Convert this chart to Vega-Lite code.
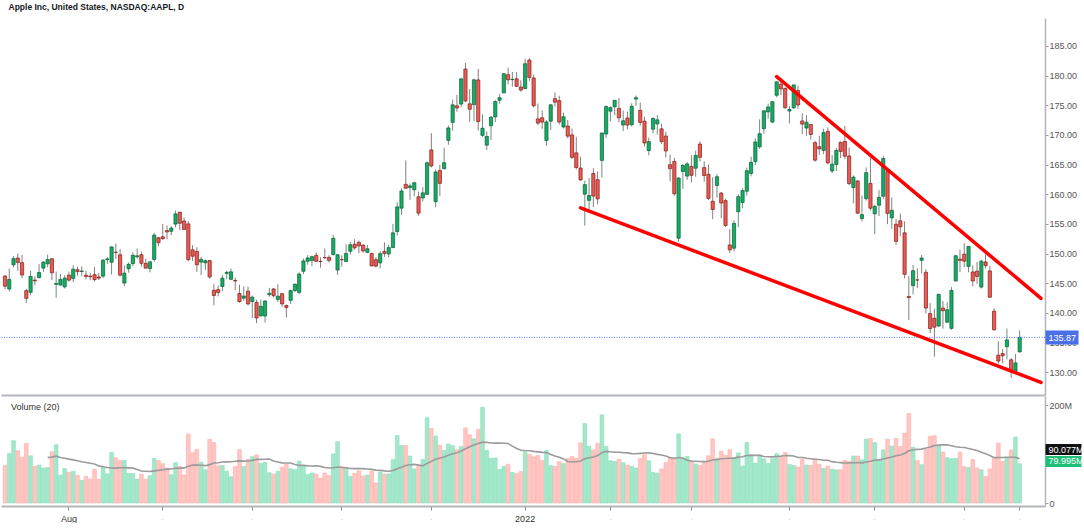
{
  "$schema": "https://vega.github.io/schema/vega-lite/v6.json",
  "background": "white",
  "padding": {"left": 0, "right": 0, "top": 2, "bottom": 0},
  "config": {
    "view": {"stroke": null},
    "font": "Liberation Sans, Arial, sans-serif",
    "axis": {"labelFont": "Liberation Sans, Arial, sans-serif", "grid": false},
    "text": {"font": "Liberation Sans, Arial, sans-serif"}
  },
  "title": {"text": "Apple Inc, United States, NASDAQ:AAPL, D", "anchor": "start", "fontSize": 8.5, "fontWeight": "bold", "color": "#131722", "offset": 7, "dx": 8, "font": "Liberation Sans, Arial, sans-serif"},
  "spacing": 1,
  "resolve": {"scale": {"x": "shared"}, "axis": {"x": "independent"}},
  "datasets": {
    "trend": [
      {"g": "lo", "d": "2022-01-21", "p": 157.7},
      {"g": "lo", "d": "2022-06-28", "p": 128.27},
      {"g": "hi", "d": "2022-03-29", "p": 179.82},
      {"g": "hi", "d": "2022-06-28", "p": 142.45}
    ],
    "ohlc": [
{"d":"2021-07-12","o":146.21,"h":146.32,"l":144.0,"c":144.5,"v":76.6},
{"d":"2021-07-13","o":144.03,"h":147.46,"l":143.63,"c":145.64,"v":100.8},
{"d":"2021-07-14","o":148.1,"h":149.57,"l":147.68,"c":149.15,"v":127.1},
{"d":"2021-07-15","o":149.24,"h":150.0,"l":147.09,"c":148.48,"v":106.8},
{"d":"2021-07-16","o":148.46,"h":149.76,"l":145.88,"c":146.39,"v":93.3},
{"d":"2021-07-19","o":143.75,"h":144.07,"l":141.67,"c":142.45,"v":121.4},
{"d":"2021-07-20","o":143.46,"h":147.1,"l":142.96,"c":146.15,"v":96.4},
{"d":"2021-07-21","o":145.53,"h":146.13,"l":144.63,"c":145.4,"v":75.0},
{"d":"2021-07-22","o":145.94,"h":148.2,"l":145.81,"c":146.8,"v":77.3},
{"d":"2021-07-23","o":147.55,"h":148.72,"l":146.92,"c":148.56,"v":71.4},
{"d":"2021-07-26","o":148.27,"h":149.83,"l":147.7,"c":148.99,"v":72.4},
{"d":"2021-07-27","o":149.12,"h":149.21,"l":145.55,"c":146.77,"v":104.8},
{"d":"2021-07-28","o":144.81,"h":146.97,"l":142.54,"c":144.98,"v":118.9},
{"d":"2021-07-29","o":144.69,"h":146.55,"l":144.58,"c":145.64,"v":56.7},
{"d":"2021-07-30","o":144.38,"h":146.33,"l":144.11,"c":145.86,"v":70.4},
{"d":"2021-08-02","o":146.36,"h":146.95,"l":145.25,"c":145.52,"v":62.9},
{"d":"2021-08-03","o":145.81,"h":148.04,"l":145.18,"c":147.36,"v":64.8},
{"d":"2021-08-04","o":147.27,"h":147.79,"l":146.28,"c":146.95,"v":56.4},
{"d":"2021-08-05","o":146.98,"h":147.84,"l":146.17,"c":147.06,"v":46.4},
{"d":"2021-08-06","o":146.35,"h":147.11,"l":145.63,"c":146.14,"v":54.1},
{"d":"2021-08-09","o":146.2,"h":146.7,"l":145.52,"c":146.09,"v":48.9},
{"d":"2021-08-10","o":146.44,"h":147.71,"l":145.3,"c":145.6,"v":69.0},
{"d":"2021-08-11","o":146.05,"h":146.72,"l":145.53,"c":145.86,"v":48.5},
{"d":"2021-08-12","o":146.19,"h":149.05,"l":145.84,"c":148.89,"v":72.3},
{"d":"2021-08-13","o":148.97,"h":149.44,"l":148.27,"c":149.1,"v":59.4},
{"d":"2021-08-16","o":148.54,"h":151.19,"l":146.47,"c":151.12,"v":103.3},
{"d":"2021-08-17","o":150.23,"h":151.68,"l":149.09,"c":150.19,"v":92.2},
{"d":"2021-08-18","o":149.8,"h":150.72,"l":146.15,"c":146.36,"v":86.3},
{"d":"2021-08-19","o":145.03,"h":148.0,"l":144.5,"c":146.7,"v":87.0},
{"d":"2021-08-20","o":147.44,"h":148.5,"l":146.78,"c":148.19,"v":60.5},
{"d":"2021-08-23","o":148.31,"h":150.19,"l":147.89,"c":149.71,"v":60.1},
{"d":"2021-08-24","o":149.45,"h":150.86,"l":149.15,"c":149.62,"v":48.6},
{"d":"2021-08-25","o":149.81,"h":150.32,"l":147.8,"c":148.36,"v":59.0},
{"d":"2021-08-26","o":148.35,"h":149.12,"l":147.51,"c":147.54,"v":48.6},
{"d":"2021-08-27","o":147.48,"h":148.75,"l":146.83,"c":148.6,"v":55.8},
{"d":"2021-08-30","o":149.0,"h":153.49,"l":148.61,"c":153.12,"v":91.0},
{"d":"2021-08-31","o":152.66,"h":152.8,"l":151.29,"c":151.83,"v":86.5},
{"d":"2021-09-01","o":152.83,"h":154.98,"l":152.34,"c":152.51,"v":80.3},
{"d":"2021-09-02","o":153.87,"h":154.72,"l":152.4,"c":153.65,"v":71.1},
{"d":"2021-09-03","o":153.76,"h":154.63,"l":153.09,"c":154.3,"v":57.8},
{"d":"2021-09-07","o":154.97,"h":157.26,"l":154.39,"c":156.69,"v":82.3},
{"d":"2021-09-08","o":156.98,"h":157.04,"l":153.98,"c":155.11,"v":74.4},
{"d":"2021-09-09","o":155.49,"h":156.11,"l":153.95,"c":154.07,"v":57.3},
{"d":"2021-09-10","o":155.0,"h":155.48,"l":148.7,"c":148.97,"v":140.9},
{"d":"2021-09-13","o":150.63,"h":151.42,"l":148.75,"c":149.55,"v":102.4},
{"d":"2021-09-14","o":150.35,"h":151.07,"l":146.91,"c":148.12,"v":109.3},
{"d":"2021-09-15","o":148.56,"h":149.44,"l":146.37,"c":149.03,"v":83.3},
{"d":"2021-09-16","o":148.44,"h":148.97,"l":147.22,"c":148.79,"v":68.0},
{"d":"2021-09-17","o":148.82,"h":148.82,"l":145.76,"c":146.06,"v":129.9},
{"d":"2021-09-20","o":143.8,"h":144.84,"l":141.27,"c":142.94,"v":123.5},
{"d":"2021-09-21","o":143.93,"h":144.6,"l":142.78,"c":143.43,"v":75.8},
{"d":"2021-09-22","o":144.45,"h":146.43,"l":143.7,"c":145.85,"v":76.4},
{"d":"2021-09-23","o":146.65,"h":147.08,"l":145.64,"c":146.83,"v":64.8},
{"d":"2021-09-24","o":145.66,"h":147.47,"l":145.56,"c":146.92,"v":53.5},
{"d":"2021-09-27","o":145.47,"h":145.96,"l":143.82,"c":145.37,"v":74.2},
{"d":"2021-09-28","o":143.25,"h":144.75,"l":141.69,"c":141.91,"v":109.0},
{"d":"2021-09-29","o":142.47,"h":144.45,"l":142.03,"c":142.83,"v":74.6},
{"d":"2021-09-30","o":143.66,"h":144.38,"l":141.28,"c":141.5,"v":89.1},
{"d":"2021-10-01","o":141.9,"h":142.92,"l":139.11,"c":142.65,"v":94.6},
{"d":"2021-10-04","o":141.76,"h":142.21,"l":138.27,"c":139.14,"v":98.3},
{"d":"2021-10-05","o":139.49,"h":142.24,"l":139.36,"c":141.11,"v":80.9},
{"d":"2021-10-06","o":139.47,"h":142.15,"l":138.37,"c":142.0,"v":83.2},
{"d":"2021-10-07","o":143.06,"h":144.22,"l":142.72,"c":143.29,"v":61.7},
{"d":"2021-10-08","o":144.03,"h":144.18,"l":142.56,"c":142.9,"v":58.8},
{"d":"2021-10-11","o":142.27,"h":144.81,"l":141.81,"c":142.81,"v":64.5},
{"d":"2021-10-12","o":143.23,"h":143.25,"l":141.04,"c":141.51,"v":73.0},
{"d":"2021-10-13","o":141.24,"h":141.4,"l":139.2,"c":140.91,"v":78.8},
{"d":"2021-10-14","o":142.11,"h":143.88,"l":141.51,"c":143.76,"v":69.9},
{"d":"2021-10-15","o":143.77,"h":144.9,"l":143.51,"c":144.84,"v":67.9},
{"d":"2021-10-18","o":143.45,"h":146.84,"l":143.16,"c":146.55,"v":85.6},
{"d":"2021-10-19","o":147.01,"h":149.17,"l":146.55,"c":148.76,"v":76.4},
{"d":"2021-10-20","o":148.7,"h":149.75,"l":148.12,"c":149.26,"v":58.4},
{"d":"2021-10-21","o":148.81,"h":149.64,"l":147.87,"c":149.48,"v":61.4},
{"d":"2021-10-22","o":149.69,"h":150.18,"l":148.64,"c":148.69,"v":58.9},
{"d":"2021-10-25","o":148.68,"h":149.37,"l":147.62,"c":148.64,"v":50.7},
{"d":"2021-10-26","o":149.33,"h":150.84,"l":149.01,"c":149.32,"v":60.9},
{"d":"2021-10-27","o":149.36,"h":149.73,"l":148.49,"c":148.85,"v":56.1},
{"d":"2021-10-28","o":149.82,"h":153.17,"l":149.72,"c":152.57,"v":100.1},
{"d":"2021-10-29","o":147.22,"h":149.94,"l":146.41,"c":149.8,"v":125.0},
{"d":"2021-11-01","o":148.99,"h":149.7,"l":147.8,"c":148.96,"v":74.6},
{"d":"2021-11-02","o":148.66,"h":151.57,"l":148.65,"c":150.02,"v":69.1},
{"d":"2021-11-03","o":150.39,"h":151.97,"l":149.82,"c":151.49,"v":54.5},
{"d":"2021-11-04","o":151.58,"h":152.43,"l":150.64,"c":150.96,"v":60.4},
{"d":"2021-11-05","o":151.89,"h":152.2,"l":150.06,"c":151.28,"v":65.5},
{"d":"2021-11-08","o":151.41,"h":151.57,"l":150.16,"c":150.44,"v":55.0},
{"d":"2021-11-09","o":150.2,"h":151.43,"l":150.06,"c":150.81,"v":56.8},
{"d":"2021-11-10","o":150.02,"h":150.13,"l":147.85,"c":147.92,"v":65.2},
{"d":"2021-11-11","o":148.96,"h":149.43,"l":147.68,"c":147.87,"v":41.0},
{"d":"2021-11-12","o":148.43,"h":150.4,"l":147.48,"c":149.99,"v":63.8},
{"d":"2021-11-15","o":150.37,"h":151.88,"l":149.43,"c":150.0,"v":59.2},
{"d":"2021-11-16","o":149.94,"h":151.49,"l":149.34,"c":151.0,"v":59.3},
{"d":"2021-11-17","o":151.0,"h":155.0,"l":150.99,"c":153.49,"v":88.8},
{"d":"2021-11-18","o":153.71,"h":158.67,"l":153.05,"c":157.87,"v":137.8},
{"d":"2021-11-19","o":157.65,"h":161.02,"l":156.53,"c":160.55,"v":117.3},
{"d":"2021-11-22","o":161.68,"h":165.7,"l":161.0,"c":161.02,"v":117.5},
{"d":"2021-11-23","o":161.12,"h":161.8,"l":159.06,"c":161.41,"v":96.0},
{"d":"2021-11-24","o":160.75,"h":162.14,"l":159.64,"c":161.94,"v":69.5},
{"d":"2021-11-26","o":159.57,"h":160.45,"l":156.36,"c":156.81,"v":77.0},
{"d":"2021-11-29","o":159.37,"h":161.19,"l":158.79,"c":160.24,"v":88.7},
{"d":"2021-11-30","o":159.99,"h":165.52,"l":159.92,"c":165.3,"v":174.0},
{"d":"2021-12-01","o":167.48,"h":170.3,"l":164.53,"c":164.77,"v":152.1},
{"d":"2021-12-02","o":158.74,"h":164.2,"l":157.8,"c":163.76,"v":136.7},
{"d":"2021-12-03","o":164.02,"h":164.96,"l":159.72,"c":161.84,"v":118.0},
{"d":"2021-12-06","o":164.29,"h":167.88,"l":164.28,"c":165.32,"v":107.5},
{"d":"2021-12-07","o":169.08,"h":171.58,"l":168.34,"c":171.18,"v":120.4},
{"d":"2021-12-08","o":172.13,"h":175.96,"l":170.7,"c":175.08,"v":117.0},
{"d":"2021-12-09","o":174.91,"h":176.75,"l":173.92,"c":174.56,"v":108.9},
{"d":"2021-12-10","o":175.21,"h":179.63,"l":174.69,"c":179.45,"v":115.4},
{"d":"2021-12-13","o":181.12,"h":182.13,"l":175.53,"c":175.74,"v":153.2},
{"d":"2021-12-14","o":175.25,"h":177.74,"l":172.21,"c":174.33,"v":139.4},
{"d":"2021-12-15","o":175.11,"h":179.5,"l":172.31,"c":179.3,"v":131.1},
{"d":"2021-12-16","o":179.28,"h":181.14,"l":170.75,"c":172.26,"v":150.2},
{"d":"2021-12-17","o":169.93,"h":173.47,"l":169.69,"c":171.14,"v":195.4},
{"d":"2021-12-20","o":168.28,"h":170.58,"l":167.46,"c":169.75,"v":107.5},
{"d":"2021-12-21","o":171.56,"h":173.2,"l":169.12,"c":172.99,"v":91.2},
{"d":"2021-12-22","o":173.04,"h":175.86,"l":172.15,"c":175.64,"v":92.1},
{"d":"2021-12-23","o":175.85,"h":176.85,"l":175.27,"c":176.28,"v":68.4},
{"d":"2021-12-27","o":177.09,"h":180.42,"l":177.07,"c":180.33,"v":74.9},
{"d":"2021-12-28","o":180.16,"h":181.33,"l":178.53,"c":179.29,"v":79.1},
{"d":"2021-12-29","o":179.33,"h":180.63,"l":178.14,"c":179.38,"v":62.3},
{"d":"2021-12-30","o":179.47,"h":180.57,"l":178.09,"c":178.2,"v":59.8},
{"d":"2021-12-31","o":178.09,"h":179.23,"l":177.26,"c":177.57,"v":64.1},
{"d":"2022-01-03","o":177.83,"h":182.88,"l":177.71,"c":182.01,"v":104.5},
{"d":"2022-01-04","o":182.63,"h":182.94,"l":179.12,"c":179.7,"v":99.3},
{"d":"2022-01-05","o":179.61,"h":180.17,"l":174.64,"c":174.92,"v":94.5},
{"d":"2022-01-06","o":172.7,"h":175.3,"l":171.64,"c":172.0,"v":96.9},
{"d":"2022-01-07","o":172.89,"h":174.14,"l":171.03,"c":172.17,"v":86.7},
{"d":"2022-01-10","o":169.08,"h":172.5,"l":168.17,"c":172.19,"v":106.8},
{"d":"2022-01-11","o":172.32,"h":175.18,"l":170.82,"c":175.08,"v":76.1},
{"d":"2022-01-12","o":176.12,"h":177.18,"l":174.82,"c":175.53,"v":74.8},
{"d":"2022-01-13","o":175.78,"h":176.62,"l":171.79,"c":172.19,"v":84.5},
{"d":"2022-01-14","o":171.34,"h":173.78,"l":171.09,"c":173.07,"v":80.4},
{"d":"2022-01-18","o":171.51,"h":172.54,"l":169.41,"c":169.8,"v":91.0},
{"d":"2022-01-19","o":170.0,"h":171.08,"l":165.94,"c":166.23,"v":94.8},
{"d":"2022-01-20","o":166.98,"h":169.68,"l":164.18,"c":164.51,"v":91.4},
{"d":"2022-01-21","o":164.42,"h":166.33,"l":162.3,"c":162.41,"v":122.8},
{"d":"2022-01-24","o":160.02,"h":162.3,"l":154.7,"c":161.62,"v":162.3},
{"d":"2022-01-25","o":158.98,"h":162.76,"l":157.02,"c":159.78,"v":115.8},
{"d":"2022-01-26","o":163.5,"h":164.39,"l":157.82,"c":159.69,"v":108.3},
{"d":"2022-01-27","o":162.45,"h":163.84,"l":158.28,"c":159.22,"v":122.0},
{"d":"2022-01-28","o":165.71,"h":170.35,"l":162.8,"c":170.33,"v":179.9},
{"d":"2022-01-31","o":170.16,"h":175.0,"l":169.51,"c":174.78,"v":115.5},
{"d":"2022-02-01","o":174.01,"h":174.84,"l":172.31,"c":174.61,"v":86.2},
{"d":"2022-02-02","o":174.75,"h":175.88,"l":173.33,"c":175.84,"v":84.9},
{"d":"2022-02-03","o":174.48,"h":176.24,"l":172.12,"c":172.9,"v":89.4},
{"d":"2022-02-04","o":171.68,"h":174.1,"l":170.68,"c":172.39,"v":82.5},
{"d":"2022-02-07","o":172.86,"h":173.95,"l":170.95,"c":171.66,"v":77.3},
{"d":"2022-02-08","o":171.73,"h":175.35,"l":171.43,"c":174.83,"v":74.8},
{"d":"2022-02-09","o":176.05,"h":176.65,"l":174.9,"c":176.28,"v":71.3},
{"d":"2022-02-10","o":174.14,"h":175.48,"l":171.55,"c":172.12,"v":90.9},
{"d":"2022-02-11","o":172.33,"h":173.08,"l":168.04,"c":168.64,"v":98.7},
{"d":"2022-02-14","o":167.37,"h":169.58,"l":166.56,"c":168.88,"v":86.2},
{"d":"2022-02-15","o":170.97,"h":172.95,"l":170.25,"c":172.79,"v":62.5},
{"d":"2022-02-16","o":171.85,"h":173.34,"l":170.05,"c":172.55,"v":61.2},
{"d":"2022-02-17","o":171.03,"h":171.91,"l":168.47,"c":168.88,"v":69.6},
{"d":"2022-02-18","o":169.82,"h":170.54,"l":166.19,"c":167.3,"v":82.8},
{"d":"2022-02-22","o":164.98,"h":166.69,"l":162.15,"c":164.32,"v":91.2},
{"d":"2022-02-23","o":165.54,"h":166.15,"l":159.75,"c":160.07,"v":90.0},
{"d":"2022-02-24","o":152.58,"h":162.85,"l":152.0,"c":162.74,"v":141.1},
{"d":"2022-02-25","o":163.84,"h":165.12,"l":160.87,"c":164.85,"v":92.0},
{"d":"2022-02-28","o":163.06,"h":165.42,"l":162.43,"c":165.12,"v":95.1},
{"d":"2022-03-01","o":164.7,"h":166.6,"l":161.97,"c":163.2,"v":83.5},
{"d":"2022-03-02","o":164.39,"h":167.36,"l":162.95,"c":166.56,"v":79.7},
{"d":"2022-03-03","o":168.47,"h":168.91,"l":165.55,"c":166.23,"v":76.7},
{"d":"2022-03-04","o":164.49,"h":165.55,"l":162.1,"c":163.17,"v":83.7},
{"d":"2022-03-07","o":163.36,"h":165.02,"l":159.04,"c":159.3,"v":96.4},
{"d":"2022-03-08","o":158.82,"h":162.88,"l":155.8,"c":157.44,"v":131.1},
{"d":"2022-03-09","o":161.48,"h":163.41,"l":159.41,"c":162.95,"v":91.5},
{"d":"2022-03-10","o":160.2,"h":160.39,"l":155.98,"c":158.52,"v":105.3},
{"d":"2022-03-11","o":158.93,"h":159.28,"l":154.5,"c":154.73,"v":97.0},
{"d":"2022-03-14","o":151.45,"h":154.12,"l":150.1,"c":150.62,"v":108.7},
{"d":"2022-03-15","o":150.9,"h":155.57,"l":150.38,"c":155.09,"v":93.0},
{"d":"2022-03-16","o":157.05,"h":160.0,"l":154.46,"c":159.59,"v":102.3},
{"d":"2022-03-17","o":158.61,"h":161.0,"l":157.63,"c":160.62,"v":75.6},
{"d":"2022-03-18","o":160.51,"h":164.48,"l":159.76,"c":163.98,"v":123.5},
{"d":"2022-03-21","o":163.51,"h":166.35,"l":163.01,"c":165.38,"v":95.8},
{"d":"2022-03-22","o":165.51,"h":169.42,"l":164.91,"c":168.82,"v":81.5},
{"d":"2022-03-23","o":167.99,"h":172.64,"l":167.65,"c":170.21,"v":98.1},
{"d":"2022-03-24","o":171.06,"h":174.14,"l":170.21,"c":174.07,"v":90.1},
{"d":"2022-03-25","o":173.88,"h":175.28,"l":172.75,"c":174.72,"v":80.5},
{"d":"2022-03-28","o":172.17,"h":175.73,"l":172.0,"c":175.6,"v":90.4},
{"d":"2022-03-29","o":176.69,"h":179.01,"l":176.34,"c":178.96,"v":100.6},
{"d":"2022-03-30","o":178.55,"h":179.61,"l":176.7,"c":177.77,"v":92.6},
{"d":"2022-03-31","o":177.84,"h":178.03,"l":174.4,"c":174.61,"v":103.0},
{"d":"2022-04-01","o":174.03,"h":174.88,"l":171.94,"c":174.31,"v":78.8},
{"d":"2022-04-04","o":174.57,"h":178.49,"l":174.44,"c":178.44,"v":76.5},
{"d":"2022-04-05","o":177.5,"h":178.3,"l":174.42,"c":175.06,"v":73.4},
{"d":"2022-04-06","o":172.36,"h":173.63,"l":170.13,"c":171.83,"v":89.1},
{"d":"2022-04-07","o":171.16,"h":173.36,"l":169.85,"c":172.14,"v":77.6},
{"d":"2022-04-08","o":171.78,"h":171.78,"l":169.2,"c":170.09,"v":76.6},
{"d":"2022-04-11","o":168.71,"h":169.03,"l":165.5,"c":165.75,"v":89.9},
{"d":"2022-04-12","o":168.02,"h":169.87,"l":166.64,"c":167.66,"v":79.3},
{"d":"2022-04-13","o":167.39,"h":171.04,"l":166.77,"c":170.4,"v":70.6},
{"d":"2022-04-14","o":170.62,"h":171.27,"l":165.04,"c":165.29,"v":75.3},
{"d":"2022-04-18","o":163.92,"h":166.6,"l":163.57,"c":165.07,"v":69.0},
{"d":"2022-04-19","o":165.02,"h":167.82,"l":163.91,"c":167.4,"v":67.7},
{"d":"2022-04-20","o":168.76,"h":168.88,"l":166.1,"c":167.23,"v":67.9},
{"d":"2022-04-21","o":168.91,"h":171.53,"l":165.91,"c":166.42,"v":87.2},
{"d":"2022-04-22","o":166.46,"h":167.87,"l":161.5,"c":161.79,"v":84.9},
{"d":"2022-04-25","o":161.12,"h":163.17,"l":158.46,"c":162.88,"v":96.0},
{"d":"2022-04-26","o":162.25,"h":162.34,"l":156.72,"c":156.8,"v":95.6},
{"d":"2022-04-27","o":155.91,"h":159.79,"l":155.38,"c":156.57,"v":88.1},
{"d":"2022-04-28","o":159.25,"h":164.52,"l":158.93,"c":163.64,"v":130.2},
{"d":"2022-04-29","o":161.84,"h":166.2,"l":157.25,"c":157.65,"v":131.7},
{"d":"2022-05-02","o":156.71,"h":158.23,"l":153.27,"c":157.96,"v":123.1},
{"d":"2022-05-03","o":158.15,"h":160.71,"l":156.32,"c":159.48,"v":89.0},
{"d":"2022-05-04","o":159.67,"h":166.48,"l":159.26,"c":166.02,"v":108.3},
{"d":"2022-05-05","o":163.85,"h":164.08,"l":154.95,"c":156.77,"v":130.5},
{"d":"2022-05-06","o":156.01,"h":159.44,"l":154.18,"c":157.28,"v":116.1},
{"d":"2022-05-09","o":154.93,"h":155.83,"l":151.49,"c":152.06,"v":131.6},
{"d":"2022-05-10","o":155.52,"h":156.74,"l":152.93,"c":154.51,"v":115.4},
{"d":"2022-05-11","o":153.5,"h":155.45,"l":145.81,"c":146.5,"v":142.7},
{"d":"2022-05-12","o":142.77,"h":146.2,"l":138.8,"c":142.56,"v":182.6},
{"d":"2022-05-13","o":144.59,"h":148.1,"l":143.11,"c":147.11,"v":114.0},
{"d":"2022-05-16","o":145.55,"h":147.52,"l":144.18,"c":145.54,"v":86.6},
{"d":"2022-05-17","o":148.86,"h":149.77,"l":146.68,"c":149.24,"v":78.3},
{"d":"2022-05-18","o":146.85,"h":147.36,"l":139.9,"c":140.82,"v":109.7},
{"d":"2022-05-19","o":139.88,"h":141.66,"l":136.6,"c":137.35,"v":136.1},
{"d":"2022-05-20","o":139.09,"h":140.7,"l":132.61,"c":137.59,"v":137.4},
{"d":"2022-05-23","o":137.79,"h":143.26,"l":137.65,"c":143.11,"v":117.7},
{"d":"2022-05-24","o":140.81,"h":141.97,"l":137.33,"c":140.36,"v":104.1},
{"d":"2022-05-25","o":138.43,"h":141.79,"l":138.34,"c":140.52,"v":92.5},
{"d":"2022-05-26","o":137.39,"h":144.34,"l":137.14,"c":143.78,"v":90.6},
{"d":"2022-05-27","o":145.39,"h":149.68,"l":145.26,"c":149.64,"v":91.0},
{"d":"2022-05-31","o":149.07,"h":150.66,"l":146.84,"c":148.84,"v":103.7},
{"d":"2022-06-01","o":149.9,"h":151.74,"l":147.68,"c":148.71,"v":74.3},
{"d":"2022-06-02","o":147.83,"h":151.27,"l":146.86,"c":151.21,"v":72.3},
{"d":"2022-06-03","o":146.9,"h":147.97,"l":144.46,"c":145.38,"v":88.6},
{"d":"2022-06-06","o":147.03,"h":148.57,"l":144.9,"c":146.14,"v":71.6},
{"d":"2022-06-07","o":144.35,"h":149.0,"l":144.1,"c":148.71,"v":67.8},
{"d":"2022-06-08","o":148.58,"h":149.87,"l":147.46,"c":147.96,"v":53.9},
{"d":"2022-06-09","o":147.08,"h":147.95,"l":142.53,"c":142.64,"v":69.5},
{"d":"2022-06-10","o":140.28,"h":140.76,"l":137.06,"c":137.13,"v":91.4},
{"d":"2022-06-13","o":132.87,"h":135.2,"l":131.44,"c":131.88,"v":122.2},
{"d":"2022-06-14","o":133.13,"h":133.89,"l":131.48,"c":132.76,"v":84.8},
{"d":"2022-06-15","o":134.29,"h":137.34,"l":132.16,"c":135.43,"v":91.5},
{"d":"2022-06-16","o":132.08,"h":132.39,"l":129.04,"c":130.06,"v":108.1},
{"d":"2022-06-17","o":130.07,"h":133.08,"l":129.81,"c":131.56,"v":134.5},
{"d":"2022-06-21","o":133.42,"h":137.06,"l":133.32,"c":135.87,"v":79.995}
    ]
  },
  "vconcat": [
    {
      "width": 1044,
      "height": 377,
      "data": {"name": "ohlc"},
      "resolve": {"axis": {"y": "independent"}},
      "layer": [
        {
          "mark": {"type": "rule", "strokeWidth": 1},
          "encoding": {
            "x": {"field": "d", "type": "ordinal", "scale": {"type": "band", "paddingInner": 0.25, "paddingOuter": 0.563, "domain": {"unionWith": ["2022-06-22", "2022-06-23", "2022-06-24", "2022-06-27", "2022-06-28"]}}, "axis": {"orient": "bottom", "labels": false, "ticks": false, "domain": true, "domainColor": "#b2b5be", "domainWidth": 2, "title": null}},
            "y": {"field": "l", "type": "quantitative", "scale": {"domain": [126.15, 189.72], "zero": false, "nice": false}, "axis": {"orient": "right", "values": [130, 135, 140, 145, 150, 155, 160, 165, 170, 175, 180, 185], "format": ".2f", "title": null, "domainColor": "#b2b5be", "domainWidth": 1.5, "tickColor": "#9a9a9a", "tickSize": 3, "labelColor": "#555555", "labelFontSize": 9, "labelPadding": 1, "labelOverlap": false, "labelFlush": false}},
            "y2": {"field": "h"},
            "color": {"condition": {"test": "datum.c >= datum.o", "value": "#6f8f80"}, "value": "#8f7a78"}
          }
        },
        {
          "mark": {"type": "bar", "strokeWidth": 0.7},
          "encoding": {
            "x": {"field": "d", "type": "ordinal", "axis": {"orient": "bottom", "labels": false, "ticks": false, "domain": true, "domainColor": "#b2b5be", "domainWidth": 2, "title": null}},
            "y": {"field": "o", "type": "quantitative", "axis": null},
            "y2": {"field": "c"},
            "fill": {"condition": {"test": "datum.c >= datum.o", "value": "#14ad64"}, "value": "#ee5a52"},
            "stroke": {"condition": {"test": "datum.c >= datum.o", "value": "#0a5f36"}, "value": "#7a1e1a"}
          }
        },
        {
          "data": {"values": [{"last": 135.87}]},
          "mark": {"type": "rule", "strokeDash": [1, 1.5], "stroke": "#4f7cff", "strokeWidth": 1},
          "encoding": {
            "y": {"field": "last", "type": "quantitative", "axis": {"orient": "right", "values": [135.87], "format": ".2f", "title": null, "domain": false, "tickColor": "#4a70e8", "tickSize": 33, "tickWidth": 14, "tickCap": "butt", "labelColor": "white", "labelFontSize": 9, "labelPadding": -30, "labelOverlap": false, "labelFlush": false}}
          }
        },
        {
          "data": {"name": "trend"},
          "mark": {"type": "line", "color": "#ff0000", "strokeWidth": 3.5, "strokeCap": "round"},
          "encoding": {
            "x": {"field": "d", "type": "ordinal", "axis": {"orient": "bottom", "labels": false, "ticks": false, "domain": true, "domainColor": "#b2b5be", "domainWidth": 2, "title": null}},
            "y": {"field": "p", "type": "quantitative", "axis": null},
            "detail": {"field": "g"}
          }
        }
      ]
    },
    {
      "width": 1044,
      "height": 110,
      "title": {"text": "Volume (20)", "anchor": "start", "orient": "top", "offset": -16, "dx": 10, "fontSize": 9, "fontWeight": "normal", "color": "#333333", "font": "Liberation Sans, Arial, sans-serif"},
      "data": {"name": "ohlc"},
      "resolve": {"axis": {"y": "independent"}},
      "layer": [
        {
          "mark": {"type": "bar", "strokeWidth": 0.6, "width": {"band": 1.15}},
          "encoding": {
            "x": {"field": "d", "type": "ordinal", "scale": {"type": "band", "paddingInner": 0.25, "paddingOuter": 0.563, "domain": {"unionWith": ["2022-06-22", "2022-06-23", "2022-06-24", "2022-06-27", "2022-06-28"]}}, "axis": {"orient": "bottom", "values": ["2021-08-02", "2021-09-01", "2021-10-01", "2021-11-01", "2021-12-01", "2022-01-03", "2022-02-01", "2022-03-01", "2022-04-01", "2022-05-02", "2022-06-01", "2022-06-21"], "labelExpr": "datum.value == '2021-08-02' ? 'Aug' : datum.value == '2022-01-03' ? '2022' : '·'", "labelColor": {"condition": {"test": "datum.value == '2021-08-02' || datum.value == '2022-01-03'", "value": "#333333"}, "value": "#cccccc"}, "bandPosition": 0.5, "title": null, "labelAngle": 0, "labelFontSize": 9, "labelPadding": 4, "labelOverlap": false, "domainColor": "#b2b5be", "domainWidth": 2, "tickColor": "#888888", "tickSize": 4}},
            "y": {"field": "v", "type": "quantitative", "scale": {"domain": [-6.1, 218.4], "zero": false, "nice": false}, "axis": {"orient": "right", "values": [0, 200], "labelExpr": "datum.value == 0 ? '0' : datum.value + 'M'", "title": null, "domainColor": "#b2b5be", "domainWidth": 1.5, "tickColor": "#9a9a9a", "tickSize": 3, "labelColor": "#555555", "labelFontSize": 9, "labelPadding": 1, "labelOverlap": false, "labelFlush": false}},
            "y2": {"datum": 0},
            "fill": {"condition": {"test": "datum.c >= datum.o", "value": "#a4e8cb"}, "value": "#ffc6c3"},
            "stroke": {"condition": {"test": "datum.c >= datum.o", "value": "#86dfb8"}, "value": "#ffaea9"}
          }
        },
        {
          "transform": [
            {"window": [{"op": "mean", "field": "v", "as": "ma"}, {"op": "row_number", "as": "rn"}], "frame": [-19, 0], "sort": [{"field": "d", "order": "ascending"}]},
            {"filter": "datum.rn > 10"}
          ],
          "mark": {"type": "line", "color": "#9b9b9b", "strokeWidth": 1.6},
          "encoding": {
            "x": {"field": "d", "type": "ordinal", "axis": {"orient": "bottom", "values": ["2021-08-02", "2021-09-01", "2021-10-01", "2021-11-01", "2021-12-01", "2022-01-03", "2022-02-01", "2022-03-01", "2022-04-01", "2022-05-02", "2022-06-01", "2022-06-21"], "labelExpr": "datum.value == '2021-08-02' ? 'Aug' : datum.value == '2022-01-03' ? '2022' : '·'", "labelColor": {"condition": {"test": "datum.value == '2021-08-02' || datum.value == '2022-01-03'", "value": "#333333"}, "value": "#cccccc"}, "bandPosition": 0.5, "title": null, "labelAngle": 0, "labelFontSize": 9, "labelPadding": 4, "labelOverlap": false, "domainColor": "#b2b5be", "domainWidth": 2, "tickColor": "#888888", "tickSize": 4}},
            "y": {"field": "ma", "type": "quantitative", "axis": {"orient": "right", "values": [109.6, 86.3], "labelExpr": "datum.value > 100 ? '90.077M' : '79.995M'", "title": null, "domain": false, "tickColor": {"condition": {"test": "datum.value > 100", "value": "#111111"}, "value": "#1fbf78"}, "tickSize": 36, "tickWidth": 11, "tickCap": "butt", "labelColor": "white", "labelFontSize": 9, "labelPadding": -33, "labelOverlap": false, "labelFlush": false}}
          }
        }
      ]
    }
  ]
}
